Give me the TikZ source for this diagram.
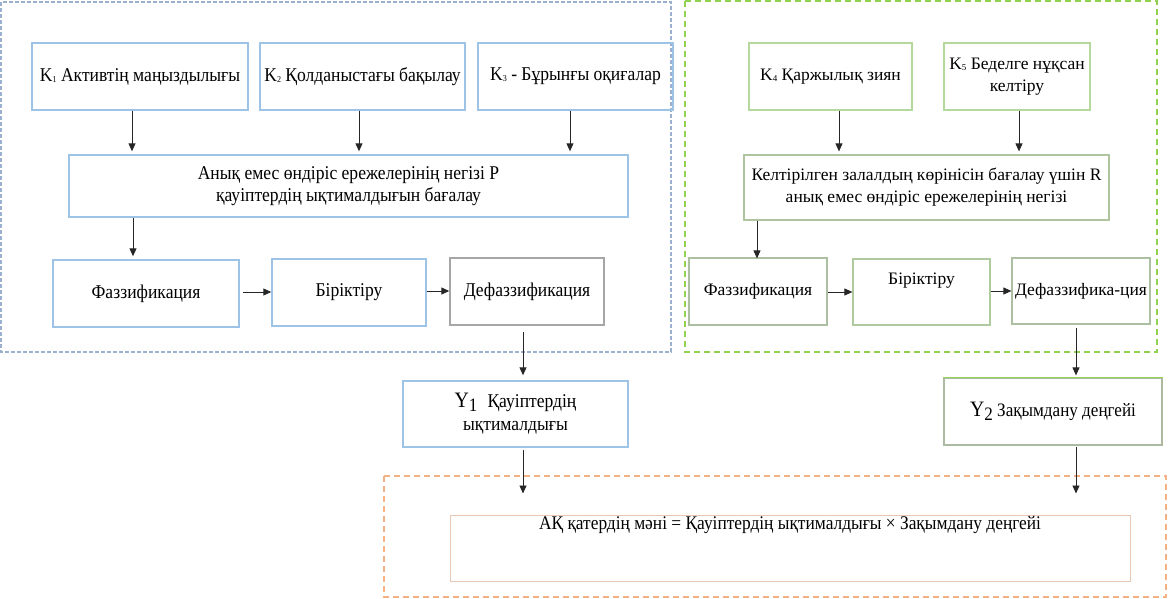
\documentclass[tikz,border=0pt]{standalone}
\usepackage{fontspec}
\setmainfont{Liberation Serif}
\newfontfamily\lfont[FakeStretch=0.9]{Liberation Serif}
\usetikzlibrary{arrows.meta,calc}
\definecolor{lblue}{HTML}{9DC3E6}
\definecolor{dashblue}{HTML}{9AB0CC}
\definecolor{lgreen}{HTML}{B5D99C}
\definecolor{dgreen}{HTML}{92D050}
\definecolor{orng}{HTML}{F4B183}
\definecolor{peach}{HTML}{E8C8B4}
\definecolor{gbord}{HTML}{A6A6A6}
\newcommand\kks[1]{\raisebox{-1pt}{\fontsize{9}{9}\selectfont #1}}
\begin{document}
\begin{tikzpicture}[x=1pt,y=-1pt,
  lbox/.style={draw=lblue, line width=1.4pt, align=center, inner sep=2pt,
    font=\lfont\fontsize{19.5}{22}\selectfont},
  rbox/.style={draw=lgreen, line width=1.2pt, align=center, inner sep=2pt,
    font=\fontsize{17.5}{22}\selectfont},
  arr/.style={-{Triangle[length=8pt,width=7pt]}, line width=0.9pt, draw=black!85},
  grp/.style={line width=1.2pt}]
\useasboundingbox (0,0) rectangle (1168,598);
% group frames
\draw[grp, draw=dashblue, dash pattern=on 4pt off 2pt] (1,2) rectangle (671,352);
\draw[grp, draw=dgreen, line width=1.6pt, dash pattern=on 6pt off 4pt] (685,1) rectangle (1157,352);
\draw[grp, draw=orng, dash pattern=on 6pt off 4pt] (384,476) rectangle (1166,597);
% left nodes
\node[lbox, minimum width=216pt, minimum height=67pt] (k1) at (140,76.5) {K\kks{1} Активтің маңыздылығы};
\node[lbox, minimum width=205pt, minimum height=67pt] (k2) at (362.5,76.5) {K\kks{2} Қолданыстағы бақылау};
\node[lbox, minimum width=195pt, minimum height=67pt] (k3) at (575.5,76.5) {K\kks{3} - Бұрынғы оқиғалар};
\node[lbox, minimum width=559pt, minimum height=62pt] (p) at (348.5,186) {Анық емес өндіріс ережелерінің негізі Р\\қауіптердің ықтималдығын бағалау};
\node[lbox, minimum width=186pt, minimum height=67pt] (fz1) at (146,293.5) {Фаззификация};
\node[lbox, minimum width=154pt, minimum height=67pt] (bi1) at (349,292.5) {Біріктіру};
\node[lbox, draw=gbord, minimum width=154pt, minimum height=67pt] (df1) at (527,291.5) {Дефаззификация};
\node[lbox, minimum width=225pt, minimum height=66pt] (y1) at (515.5,414) {{\fontsize{22}{22}\selectfont Y\raisebox{-4pt}[\height][0pt]{\fontsize{19}{19}\selectfont 1}}\hspace{10pt}Қауіптердің\\[1pt]ықтималдығы};
% right nodes
\node[rbox, minimum width=163pt, minimum height=67pt] (k4) at (830.5,76.5) {K\kks{4} Қаржылық зиян};
\node[rbox, minimum width=146pt, minimum height=67pt] (k5) at (1017,76.5) {K\kks{5} Беделге нұқсан\\келтіру};
\node[rbox, draw=lgreen!60!gbord, minimum width=365pt, minimum height=65pt] (r) at (926.5,187.5) {Келтірілген залалдың көрінісін бағалау үшін R\\анық емес өндіріс ережелерінің негізі};
\node[rbox, draw=lgreen!50!gbord, minimum width=138pt, minimum height=67pt] (fz2) at (758,291.5) {Фаззификация};
\node[rbox, draw=lgreen!70!gbord, minimum width=137pt, minimum height=66pt] (bi2) at (921.5,292) {\raisebox{11pt}[\height][\depth]{Біріктіру}};
\node[rbox, draw=lgreen!50!gbord, minimum width=138pt, minimum height=66pt] (df2) at (1081,291) {Дефаззифика-ция};
\node[rbox, draw=lgreen!40!gbord, minimum width=218pt, minimum height=67pt, font=\lfont\fontsize{19}{22}\selectfont] (y2) at (1053,411.5) {{\fontsize{22}{22}\selectfont Y\raisebox{-4pt}[\height][0pt]{\fontsize{19}{19}\selectfont 2}} Зақымдану деңгейі};
\draw[dgreen!80!lgreen, line width=1.4pt] (y2.north west) -- (y2.north east);
% result
\node[draw=peach, line width=1pt, minimum width=680pt, minimum height=66pt, font=\lfont\fontsize{19.3}{22}\selectfont] (res) at (790,548) {\raisebox{23pt}[\height][\depth]{АҚ қатердің мәні = Қауіптердің ықтималдығы × Зақымдану деңгейі}};
% arrows left
\draw[arr, shorten >=3pt] (k1.south -| 132,0) -- (p.north -| 132,0);
\draw[arr, shorten >=3pt] (k2.south -| 359,0) -- (p.north -| 359,0);
\draw[arr, shorten >=3pt] (k3.south -| 570,0) -- (p.north -| 570,0);
\draw[arr, shorten >=3pt] (p.south -| 133,0) -- (fz1.north -| 133,0);
\draw[arr, shorten <=3pt] (fz1.east |- 0,292) -- (bi1.west |- 0,292);
\draw[arr] (bi1.east |- 0,291) -- (df1.west |- 0,291);
\draw[arr, shorten <=6pt, shorten >=5pt] (df1.south -| 523,0) -- (y1.north -| 523,0);
\draw[arr, shorten <=2pt, shorten >=21pt] (y1.south -| 523,0) -- (res.north -| 523,0);
% arrows right
\draw[arr, shorten >=3pt] (k4.south -| 839,0) -- (r.north -| 839,0);
\draw[arr, shorten >=3pt] (k5.south -| 1019,0) -- (r.north -| 1019,0);
\draw[arr, shorten >=-1pt] (r.south -| 757,0) -- (fz2.north -| 757,0);
\draw[arr] (fz2.east |- 0,292) -- (bi2.west |- 0,292);
\draw[arr] (bi2.east |- 0,291) -- (df2.west |- 0,291);
\draw[arr, shorten <=3pt, shorten >=2pt] (df2.south -| 1076,0) -- (y2.north -| 1076,0);
\draw[arr, shorten <=1pt, shorten >=21pt] (y2.south -| 1076,0) -- (res.north -| 1076,0);
\end{tikzpicture}
\end{document}
